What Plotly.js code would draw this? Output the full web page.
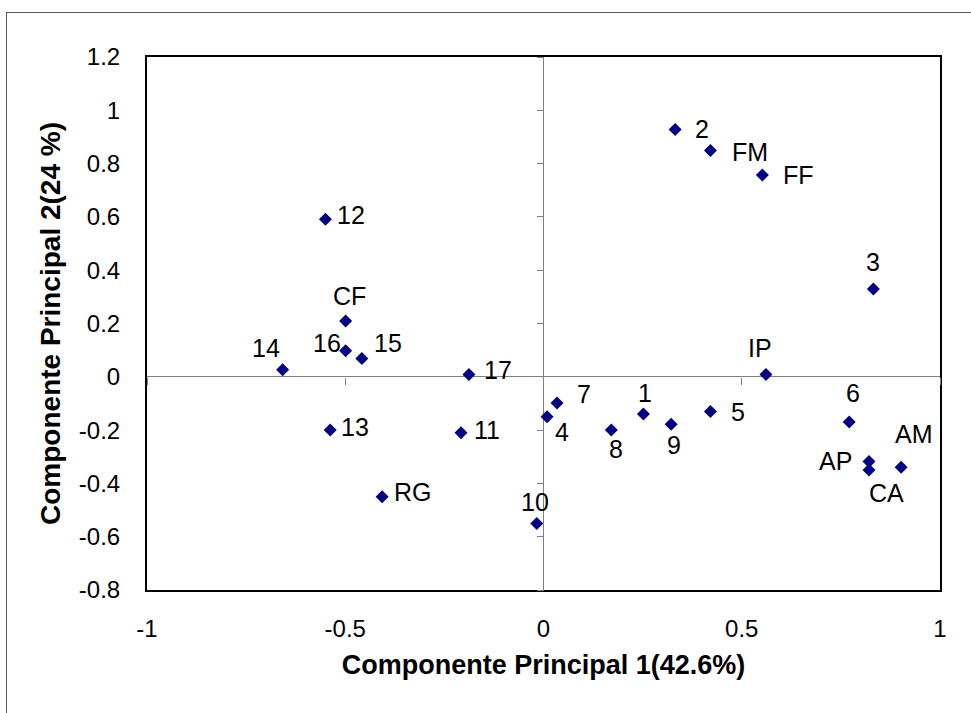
<!DOCTYPE html>
<html>
<head>
<meta charset="utf-8">
<script src="https://cdn.plot.ly/plotly-3.0.1.min.js"></script>
<style>
  html, body { margin: 0; padding: 0; background: #fff; overflow: hidden; }
  #wrap { position: relative; width: 971px; height: 713px; }
  #chart { position: absolute; left: 0; top: 0; width: 971px; height: 713px; }
  #frame { position: absolute; left: 6px; top: 12px; width: 1100px; height: 900px;
           border: 1px solid #5a5a5a; pointer-events: none; }
</style>
</head>
<body>
<div id="wrap"><div id="chart"></div><div id="frame"></div></div>
<script>
// ---- data ----
const labels = ['2','FM','FF','3','IP','12','CF','16','15','14','17','13','11','RG','10','7','4','1','8','9','5','6','AP','CA','AM'];
const pc1 = [0.332, 0.421, 0.552, 0.832, 0.561, -0.550, -0.499, -0.499, -0.458, -0.658, -0.188, -0.538, -0.208, -0.407, -0.017, 0.034, 0.009, 0.252, 0.171, 0.322, 0.421, 0.771, 0.821, 0.821, 0.902];
const pc2 = [0.928, 0.849, 0.757, 0.329, 0.009, 0.591, 0.209, 0.098, 0.069, 0.026, 0.009, -0.200, -0.210, -0.450, -0.550, -0.098, -0.150, -0.140, -0.200, -0.178, -0.130, -0.170, -0.318, -0.350, -0.339];

const xTickVals = [-1, -0.5, 0, 0.5, 1];
const xTickText = ['-1', '-0.5', '0', '0.5', '1'];
const yTickVals = [1.2, 1, 0.8, 0.6, 0.4, 0.2, 0, -0.2, -0.4, -0.6, -0.8];
const yTickText = ['1.2', '1', '0.8', '0.6', '0.4', '0.2', '0', '-0.2', '-0.4', '-0.6', '-0.8'];

const xTitle = 'Componente Principal 1(42.6%)';
const yTitle = 'Componente Principal 2(24 %)';

// ---- label placement (style: pixel offset of label centre from its point) ----
const labelDx = [27, 40, 36, 0, -6, 26, 4, -19, 26, -17, 29, 25, 26, 31, -2, 27, 15, 2, 5, 3, 28, 4, -34, 17, 13];
const labelDy = [0, 1, 0, -27, -26, -4, -25, -8, -15, -22, -4, -3, -3, -5, -21, -9, 15, -21, 19, 21, 1, -29, -1, 23, -33];

const FONT = '"Liberation Sans", Arial, Helvetica, sans-serif';

const annotations = labels.map((t, i) => ({
  x: pc1[i], y: pc2[i], xref: 'x', yref: 'y',
  text: t, showarrow: false,
  xanchor: 'center', yanchor: 'middle',
  xshift: labelDx[i], yshift: -labelDy[i],
  font: { family: FONT, size: 25, color: '#000' }
}));

const traces = [
  {
    type: 'scatter', mode: 'markers',
    x: pc1, y: pc2, text: labels,
    xaxis: 'x', yaxis: 'y',
    marker: { symbol: 'diamond', size: 10, color: '#000080', line: { width: 0 } },
    cliponaxis: false, showlegend: false, hoverinfo: 'x+y+text'
  },
  {
    type: 'scatter', mode: 'markers', x: [0], y: [0],
    xaxis: 'x2', yaxis: 'y2',
    marker: { opacity: 0, size: 1 }, showlegend: false, hoverinfo: 'skip'
  }
];

const layout = {
  width: 971, height: 713,
  margin: { l: 147, r: 31, t: 57, b: 123, pad: 0 },
  paper_bgcolor: '#ffffff', plot_bgcolor: '#ffffff',
  showlegend: false,
  font: { family: FONT, size: 24, color: '#000' },
  xaxis: {
    range: [-1, 1], domain: [0, 1],
    tickmode: 'array', tickvals: xTickVals, ticktext: xTickText,
    ticks: 'outside', ticklen: 16, tickcolor: 'rgba(0,0,0,0)',
    tickfont: { family: FONT, size: 24, color: '#000' },
    showline: true, mirror: true, linecolor: '#000', linewidth: 2,
    showgrid: false, zeroline: true, zerolinecolor: '#808080', zerolinewidth: 1,
    automargin: false, fixedrange: true,
    title: { text: xTitle, standoff: 14, font: { family: FONT, size: 27, color: '#000', weight: 'bold' } }
  },
  yaxis: {
    range: [-0.8, 1.2], domain: [0, 1],
    tickmode: 'array', tickvals: yTickVals, ticktext: yTickText,
    ticks: 'outside', ticklen: 20, tickcolor: 'rgba(0,0,0,0)',
    tickfont: { family: FONT, size: 24, color: '#000' },
    showline: true, mirror: true, linecolor: '#000', linewidth: 2,
    showgrid: false, zeroline: true, zerolinecolor: '#808080', zerolinewidth: 1,
    automargin: false, fixedrange: true,
    title: { text: yTitle, standoff: 10, font: { family: FONT, size: 28, color: '#000', weight: 'bold' } }
  },
  xaxis2: {
    overlaying: 'x', anchor: 'free', position: 0.4, side: 'bottom',
    range: [-1, 1], tickmode: 'array', tickvals: xTickVals,
    ticks: 'outside', ticklen: 7, tickcolor: '#808080', tickwidth: 1,
    showticklabels: false, showgrid: false, zeroline: false, showline: false,
    fixedrange: true
  },
  yaxis2: {
    overlaying: 'y', anchor: 'free', position: 0.5, side: 'left',
    range: [-0.8, 1.2], tickmode: 'array', tickvals: yTickVals,
    ticks: 'outside', ticklen: 7, tickcolor: '#808080', tickwidth: 1,
    showticklabels: false, showgrid: false, zeroline: false, showline: false,
    fixedrange: true
  },
  annotations: annotations
};

Plotly.newPlot('chart', traces, layout, { displayModeBar: false, staticPlot: true });
</script>
</body>
</html>
